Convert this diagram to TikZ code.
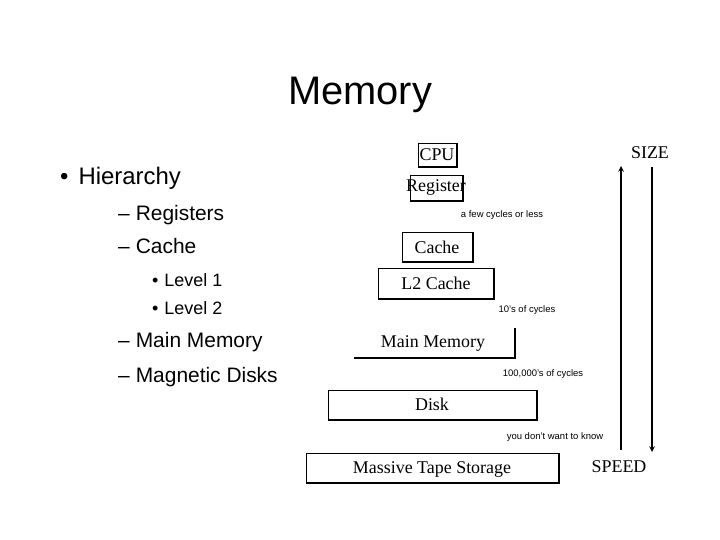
\documentclass[tikz,border=0pt]{standalone}
\usepackage{fontspec}
\setmainfont{Liberation Sans}
\newfontfamily\boxf{Liberation Serif}
\begin{document}
\begin{tikzpicture}[x=1bp,y=-1bp,
  bx/.style={draw,line width=0.8bp},
  sh/.style={line width=2.2bp},
  lab/.style={font=\boxf\fontsize{18}{18}\selectfont,inner sep=0},
  sm/.style={font=\fontsize{9.5}{10}\selectfont,inner sep=0},
  it/.style={anchor=west,inner sep=0}]
\useasboundingbox (0,0) rectangle (720,540);
\node[inner sep=0] (title) at (360,95) {\fontsize{40}{40}\selectfont Memory};
\node[it] (h) at (60,178) {\fontsize{24}{24}\selectfont •\hspace{10bp}Hierarchy};
\node[it] (r) at (118,215) {\fontsize{21}{21}\selectfont –\hspace{6bp}Registers};
\node[it] (c) at (118,246) {\fontsize{21}{21}\selectfont –\hspace{6bp}Cache};
\node[it] (l1) at (152,280) {\fontsize{18}{18}\selectfont •\hspace{6bp}Level 1};
\node[it] (l2) at (152,308) {\fontsize{18}{18}\selectfont •\hspace{6bp}Level 2};
\node[it] (mm) at (118,342) {\fontsize{21}{21}\selectfont –\hspace{6bp}Main Memory};
\node[it] (md) at (118,377) {\fontsize{21}{21}\selectfont –\hspace{6bp}Magnetic Disks};
% boxes
\draw[bx] (418,143) rectangle (457,166); \draw[sh] (457,143)--(457,167)--(418,167);
\node[lab] (cpu) at (437,155) {CPU};
\draw[bx] (410,175) rectangle (463,200); \draw[sh] (463,175)--(463,201)--(410,201);
\node[lab] (reg) at (436,187) {Register};
\draw[bx] (402,232) rectangle (473,261); \draw[sh] (473,232)--(473,262)--(402,262);
\node[lab] (cache) at (437,247) {Cache};
\draw[bx] (378,268) rectangle (494,298); \draw[sh] (494,268)--(494,299)--(378,299);
\node[lab] (l2c) at (436,283) {L2 Cache};
\draw[sh] (515,328)--(515,358)--(354,358);
\node[lab] (main) at (433,343) {Main Memory};
\draw[bx] (328,390) rectangle (537,419); \draw[sh] (537,390)--(537,420)--(328,420);
\node[lab] (disk) at (432,404) {Disk};
\draw[bx] (306,453) rectangle (559,482); \draw[sh] (559,453)--(559,483)--(306,483);
\node[lab] (tape) at (432,469) {Massive Tape Storage};
% labels
\node[sm] (a) at (502,215) {a few cycles or less};
\node[sm] (b) at (527,310) {10's of cycles};
\node[sm] (d) at (543,374) {100,000's of cycles};
\node[sm] (e) at (555,437) {you don't want to know};
\node[lab] (size) at (650,153) {SIZE};
\node[lab] (speed) at (619,467) {SPEED};
\coordinate (u1) at (621,450); \coordinate (u2) at (621,166);
\coordinate (d1) at (652,167); \coordinate (d2) at (652,452);
\draw[line width=1.5bp,-stealth] (u1)--(u2);
\draw[line width=1.5bp,-stealth] (d1)--(d2);
\end{tikzpicture}
\end{document}
